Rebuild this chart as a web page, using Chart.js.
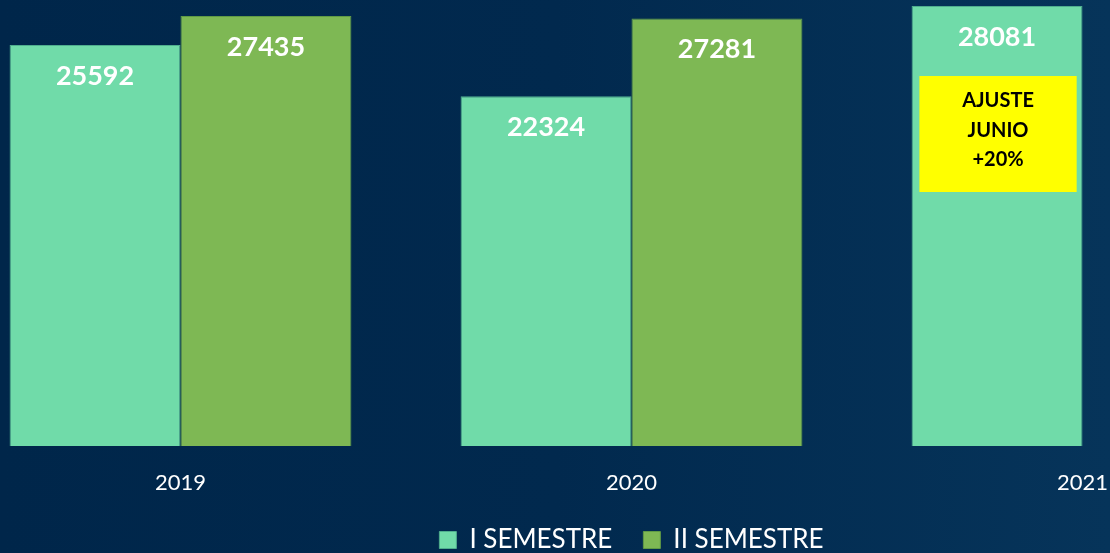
<!DOCTYPE html>
<html>
<head>
<meta charset="utf-8">
<script src="https://cdn.jsdelivr.net/npm/chart.js@4"></script>
<style>
  html, body { margin: 0; padding: 0; }
  body {
    width: 1110px; height: 553px; overflow: hidden; position: relative;
    background: linear-gradient(to right, #00264a 0%, #01294e 50%, #06345a 100%);
  }
  #wrap { position: absolute; left: -45px; top: 0; width: 1353px; height: 553px; }
</style>
</head>
<body>
<div id="wrap"><canvas id="chart"></canvas></div>
<script>
// data
var years = ["2019", "2020", "2021"];
var sem1 = [25592, 22324, 28081];
var sem2 = [27435, 27281, null];
var seriesNames = ["I SEMESTRE", "II SEMESTRE"];
var noteLines = ["AJUSTE", "JUNIO", "+20%"];

var FONT = "Lato, 'Open Sans', sans-serif";
var LEG_FONT = 26, LEG_H = 57, LEG_PAD = 31, AXIS_H = 50;

// values written inside the top of each bar + the yellow note on 2021
var barText = {
  id: "barText",
  afterDatasetsDraw: function (chart) {
    var ctx = chart.ctx;
    ctx.save();
    ctx.textAlign = "center";
    ctx.textBaseline = "middle";
    ctx.font = "bold 27px " + FONT;
    ctx.fillStyle = "#ffffff";
    chart.data.datasets.forEach(function (ds, i) {
      chart.getDatasetMeta(i).data.forEach(function (bar, j) {
        if (ds.data[j] == null) return;
        ctx.fillText(ds.data[j], bar.x, bar.y + 31);
      });
    });
    // note box on the last I SEMESTRE bar
    var b = chart.getDatasetMeta(0).data[2];
    var w = b.width * 0.92, top = b.y + 70, h = 116;
    ctx.fillStyle = "#ffff00";
    ctx.fillRect(b.x - w / 2 + 1, top, w, h);
    ctx.fillStyle = "#000000";
    ctx.font = "bold 20px " + FONT;
    noteLines.forEach(function (t, k) {
      ctx.fillText(t, b.x + 1, top + 25 + k * 29.5);
    });
    ctx.restore();
  }
};

// fixed legend block height
var legendFit = {
  id: "legendFit",
  beforeLayout: function (chart) {
    var lg = chart.legend;
    if (lg && !lg._patched) {
      var fit = lg.fit;
      lg.fit = function () { fit.call(this); this.height = LEG_H; };
      lg._patched = true;
    }
  }
};

new Chart("chart", {
  type: "bar",
  data: {
    labels: years,
    datasets: [
      {
        label: seriesNames[0],
        data: sem1,
        backgroundColor: "#70dba9",
        borderColor: "#4fae8e",
        borderWidth: 1,
        borderSkipped: "bottom"
      },
      {
        label: seriesNames[1],
        data: sem2,
        backgroundColor: "#7eb854",
        borderColor: "#5f9a45",
        borderWidth: 1,
        borderSkipped: "bottom"
      }
    ]
  },
  options: {
    responsive: true,
    maintainAspectRatio: false,
    animation: false,
    layout: { padding: { top: 6, left: 0, right: 0, bottom: 0 } },
    datasets: { bar: { categoryPercentage: 0.758, barPercentage: 1 } },
    scales: {
      x: {
        grid: { display: false, drawTicks: false },
        border: { display: false },
        ticks: { color: "#ffffff", font: { family: FONT, size: 22 }, padding: 24 },
        afterFit: function (scale) { scale.height = AXIS_H; }
      },
      y: { display: false, min: 0, max: 28081 }
    },
    plugins: {
      legend: {
        position: "bottom",
        labels: {
          color: "#ffffff",
          font: { family: FONT, size: LEG_FONT },
          boxWidth: 17,
          boxHeight: 17,
          padding: LEG_PAD,
          useBorderRadius: false
        }
      },
      tooltip: { enabled: false }
    }
  },
  plugins: [legendFit, barText]
});
</script>
</body>
</html>
